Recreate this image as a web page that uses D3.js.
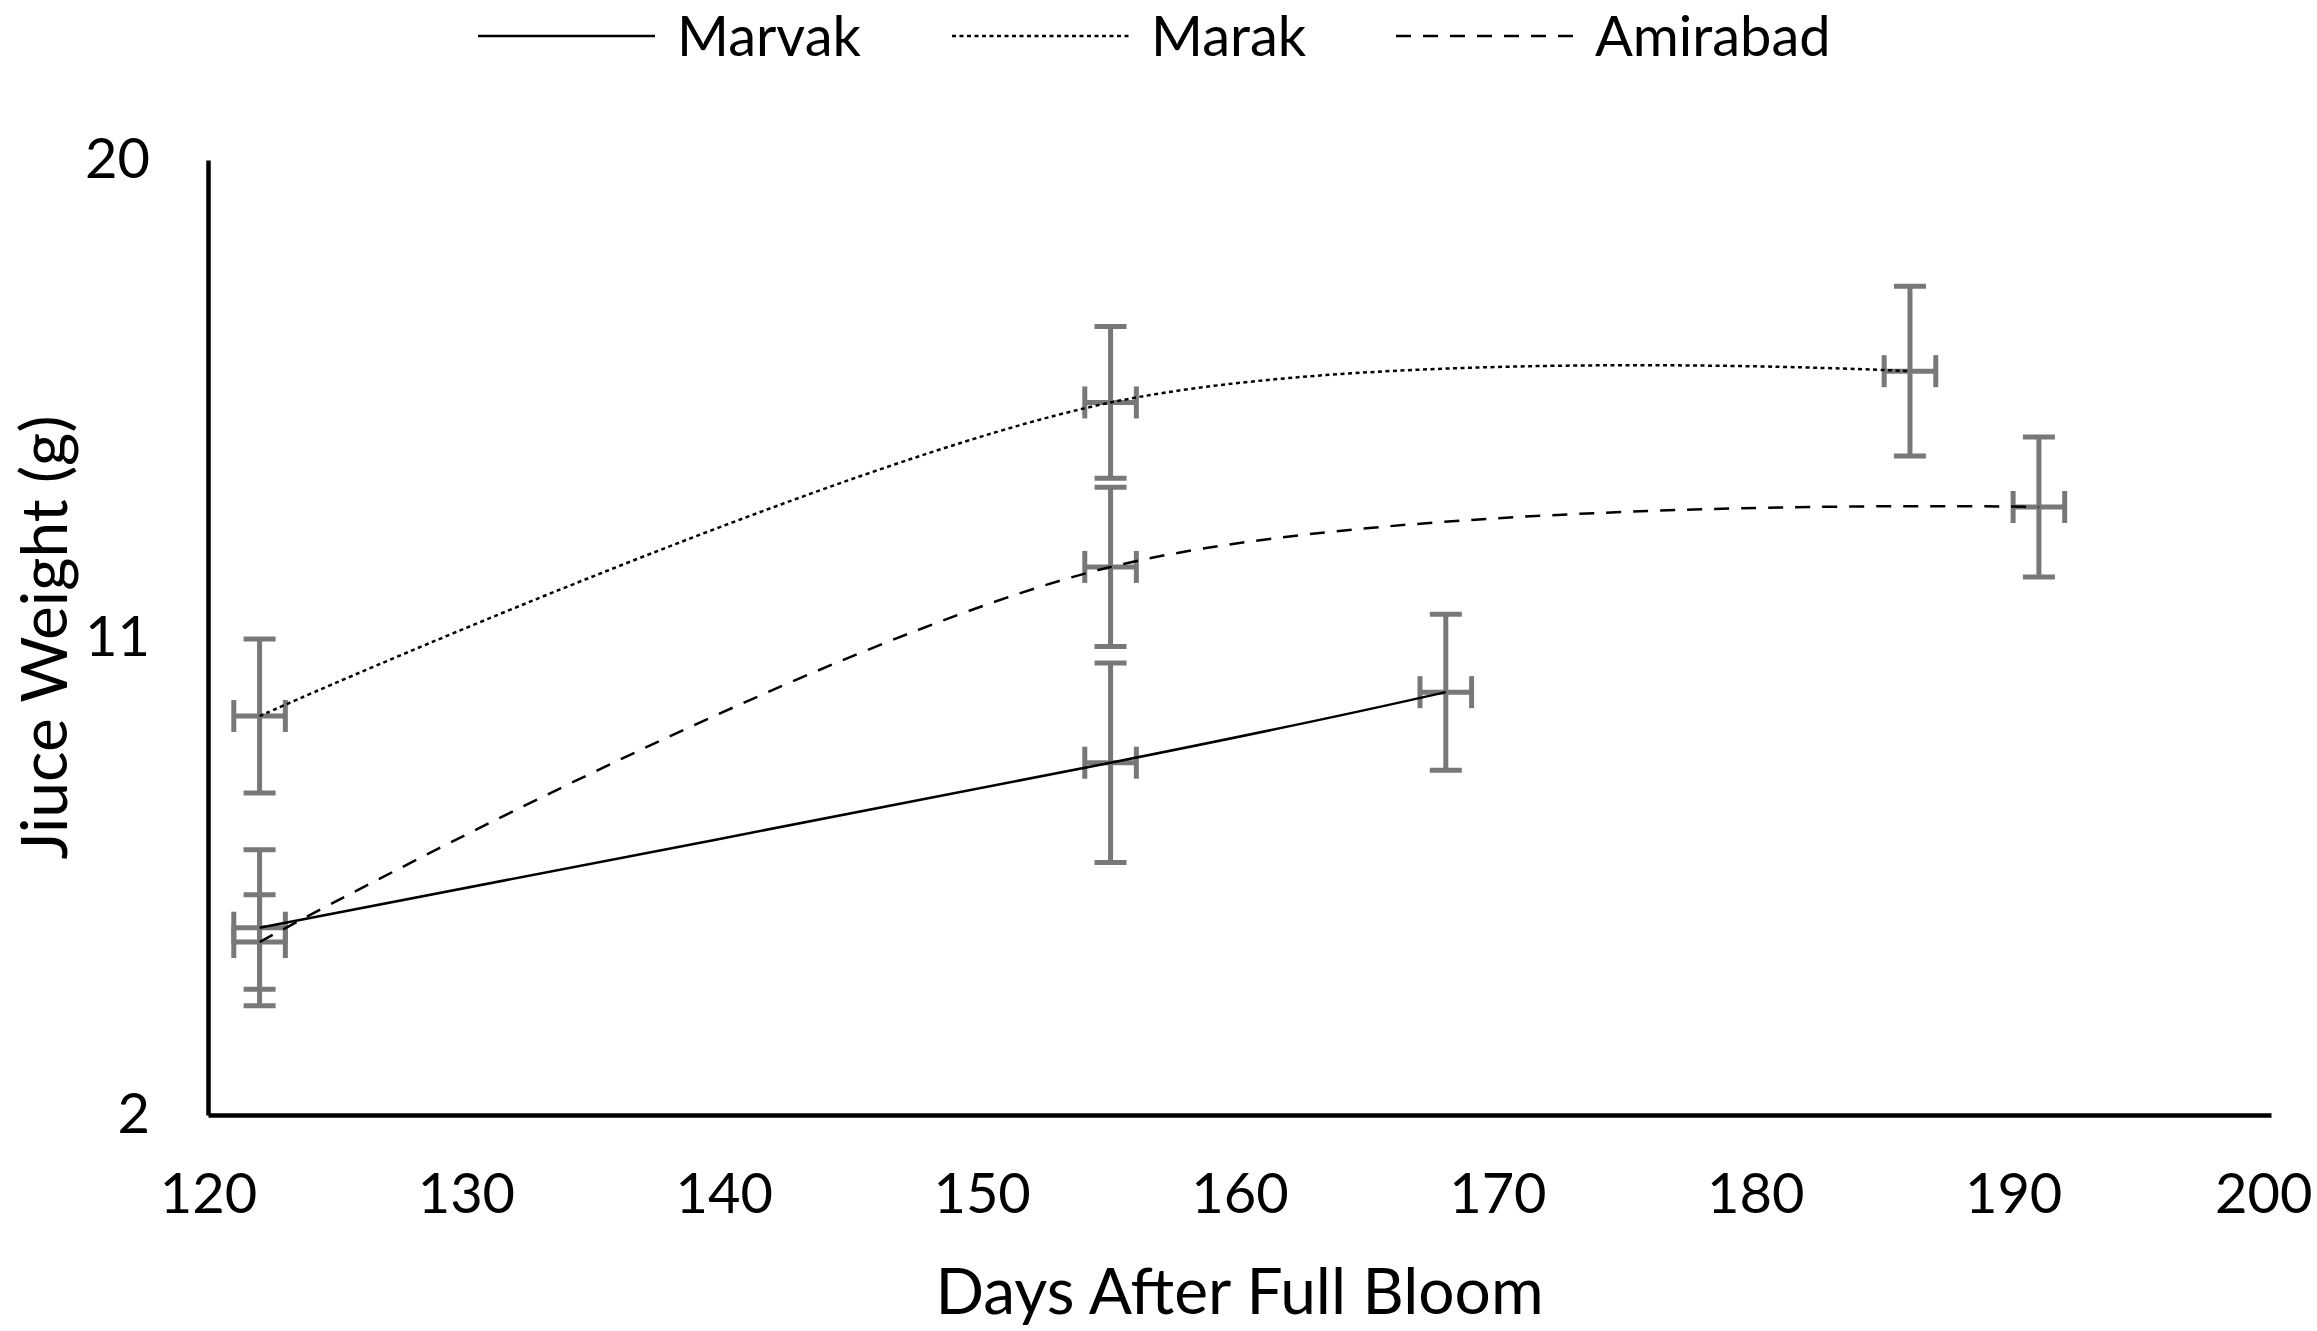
<!DOCTYPE html>
<html>
<head>
<meta charset="utf-8">
<script src="https://cdn.jsdelivr.net/npm/d3@7/dist/d3.min.js"></script>
<style>
  html, body { margin: 0; padding: 0; background: #fff; }
  svg { display: block; }
  text { font-family: Lato, "Open Sans", sans-serif; fill: #000; }
</style>
</head>
<body>
<svg id="chart" width="2317" height="1331"></svg>
<script>
// ---------------- DATA ----------------
const seriesNames = ["Marvak", "Marak", "Amirabad"];

const marvakDays   = [122, 155, 168];
const marvakValues = [5.53, 8.64, 9.97];
const marvakErrY   = [1.47, 1.88, 1.47];
const marvakErrX   = [1, 1, 1];

const marakDays    = [122, 155, 186];
const marakValues  = [9.52, 15.43, 16.02];
const marakErrY    = [1.45, 1.43, 1.6];
const marakErrX    = [1, 1, 1];

const amirabadDays   = [122, 155, 191];
const amirabadValues = [5.26, 12.33, 13.46];
const amirabadErrY   = [0.89, 1.5, 1.32];
const amirabadErrX   = [1, 1, 1];

const xTicks = [120, 130, 140, 150, 160, 170, 180, 190, 200];
const yTicks = [2, 11, 20];

const xTitle = "Days After Full Bloom";
const yTitle = "Jiuce Weight (g)";

// ---------------- LAYOUT ----------------
const svg = d3.select("#chart");
const X0 = 208, X1 = 2271, Y0 = 1115, Y1 = 160;
const FONT = 56;
const TITLE_FONT = 64;
const LEGEND_FONT = 56;

const x = d3.scaleLinear().domain([120, 200]).range([X0, X1]);
const y = d3.scaleLinear().domain([2, 20]).range([Y0, Y1]);

const styles = [
  { dash: null },
  { dash: "4,3.5" },
  { dash: "15,12" }
];

const series = [
  { name: seriesNames[0], days: marvakDays, vals: marvakValues, ey: marvakErrY, ex: marvakErrX },
  { name: seriesNames[1], days: marakDays, vals: marakValues, ey: marakErrY, ex: marakErrX },
  { name: seriesNames[2], days: amirabadDays, vals: amirabadValues, ey: amirabadErrY, ex: amirabadErrX }
];

// Axes
const xAxis = d3.axisBottom(x).tickValues(xTicks).tickSize(0).tickSizeOuter(0).tickPadding(58);
const yAxis = d3.axisLeft(y).tickValues(yTicks).tickSize(0).tickSizeOuter(0).tickPadding(58);

const gx = svg.append("g").attr("transform", `translate(0,${Y0})`).call(xAxis);
const gy = svg.append("g").attr("transform", `translate(${X0},0)`).call(yAxis);

[gx, gy].forEach(g => {
  g.select(".domain").attr("stroke", "#000").attr("stroke-width", 4.5);
  g.selectAll("text").attr("font-size", FONT).attr("font-family", "Lato, 'Open Sans', sans-serif").attr("fill", "#000");
});
// keep the last x label inside the picture
gx.selectAll(".tick text").filter(d => d === 200).attr("text-anchor", "end").attr("dx", 41);

// Axis titles
svg.append("text")
  .attr("x", (X0 + X1) / 2)
  .attr("y", 1291)
  .attr("dy", "0.36em")
  .attr("text-anchor", "middle")
  .attr("font-size", TITLE_FONT)
  .text(xTitle);

svg.append("text")
  .attr("transform", `translate(44,${(Y0 + Y1) / 2}) rotate(-90)`)
  .attr("dy", "0.36em")
  .attr("text-anchor", "middle")
  .attr("font-size", TITLE_FONT)
  .text(yTitle);

// Error bars
const errColor = "#787878";
const errW = 5;
const cap = 16;
const gErr = svg.append("g").attr("stroke", errColor).attr("stroke-width", errW).attr("fill", "none");

series.forEach(s => {
  s.days.forEach((d, i) => {
    const cx = x(d), cy = y(s.vals[i]);
    const yt = y(s.vals[i] + s.ey[i]), yb = y(s.vals[i] - s.ey[i]);
    const xl = x(d - s.ex[i]), xr = x(d + s.ex[i]);
    gErr.append("line").attr("x1", cx).attr("x2", cx).attr("y1", yt).attr("y2", yb);
    gErr.append("line").attr("x1", cx - cap).attr("x2", cx + cap).attr("y1", yt).attr("y2", yt);
    gErr.append("line").attr("x1", cx - cap).attr("x2", cx + cap).attr("y1", yb).attr("y2", yb);
    gErr.append("line").attr("x1", xl).attr("x2", xr).attr("y1", cy).attr("y2", cy);
    gErr.append("line").attr("x1", xl).attr("x2", xl).attr("y1", cy - cap).attr("y2", cy + cap);
    gErr.append("line").attr("x1", xr).attr("x2", xr).attr("y1", cy - cap).attr("y2", cy + cap);
  });
});

// Lines
const line = d3.line()
  .x(d => x(d[0]))
  .y(d => y(d[1]))
  .curve(d3.curveCardinal.tension(0));

series.forEach((s, k) => {
  const pts = s.days.map((d, i) => [d, s.vals[i]]);
  const p = svg.append("path")
    .attr("d", line(pts))
    .attr("fill", "none")
    .attr("stroke", "#000")
    .attr("stroke-width", 2.5);
  if (styles[k].dash) p.attr("stroke-dasharray", styles[k].dash);
});

// Legend
const legendX = [478, 952, 1396];
const legendLen = 177;
const legendY = 36;
series.forEach((s, k) => {
  const g = svg.append("g");
  const l = g.append("line")
    .attr("x1", legendX[k]).attr("x2", legendX[k] + legendLen)
    .attr("y1", legendY).attr("y2", legendY)
    .attr("stroke", "#000").attr("stroke-width", 2.5);
  if (styles[k].dash) l.attr("stroke-dasharray", styles[k].dash);
  g.append("text")
    .attr("x", legendX[k] + legendLen + 22)
    .attr("y", 56)
    .attr("font-size", LEGEND_FONT)
    .text(s.name);
});
</script>
</body>
</html>
